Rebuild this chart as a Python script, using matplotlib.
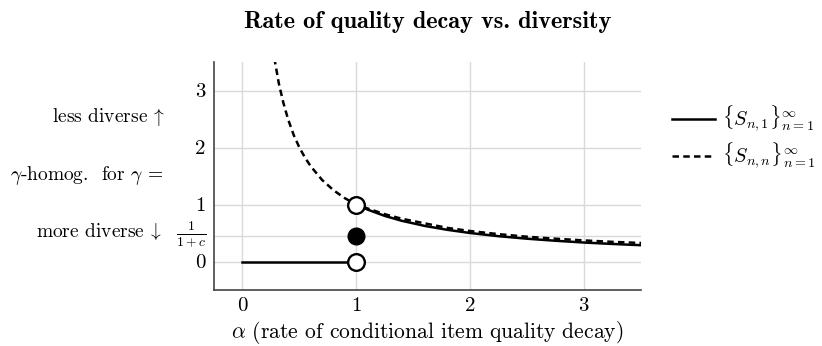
import numpy as np
import matplotlib
matplotlib.use("Agg")
import matplotlib.pyplot as plt
import matplotlib.transforms as mtransforms

plt.rcParams["font.family"] = "serif"
plt.rcParams["font.serif"] = ["cmr10"]
plt.rcParams["mathtext.fontset"] = "cm"
plt.rcParams["axes.formatter.use_mathtext"] = True

# values
c_level = 0.45  # 1/(1+c)

# S_{n,1}: zero up to alpha=1, then decays
s1_low_x = [0.0, 1.0]
s1_low_y = [0.0, 0.0]
s1_high_x = [1.0, 1.1, 1.25, 1.4, 1.6, 1.8, 2.0, 2.25, 2.5, 2.75, 3.0, 3.25, 3.5]
s1_high_y = [1.0, 0.91, 0.80, 0.714, 0.625, 0.556, 0.50, 0.444, 0.40, 0.364, 0.333, 0.308, 0.286]

# S_{n,n}
snn_x = [0.28, 0.32, 0.36, 0.4, 0.45, 0.5, 0.55, 0.6, 0.7, 0.8, 0.9, 1.0,
         1.1, 1.25, 1.4, 1.6, 1.8, 2.0, 2.25, 2.5, 2.75, 3.0, 3.25, 3.5]
snn_y = [3.57, 3.12, 2.78, 2.5, 2.22, 2.0, 1.82, 1.67, 1.43, 1.25, 1.11, 1.0,
         0.93, 0.83, 0.75, 0.67, 0.59, 0.535, 0.48, 0.435, 0.40, 0.37, 0.345, 0.325]

x_ticks = [0, 1, 2, 3]
y_ticks = [0, c_level, 1, 2, 3]
y_tick_labels = ["0", r"$\frac{1}{1+c}$", "1", "2", "3"]

fig = plt.figure(figsize=(8.22, 3.46), dpi=100)
ax = fig.add_axes([0.2603, 0.1618, 0.5195, 0.659])

ax.plot(s1_low_x, s1_low_y, color="black", lw=1.8, zorder=3)
ax.plot(s1_high_x, s1_high_y, color="black", lw=1.8, zorder=3,
        label=r"$\{S_{n,1}\}_{n=1}^{\infty}$")
ax.plot(snn_x, snn_y, color="black", lw=1.8, ls=(0, (2.6, 1.7)), zorder=3,
        label=r"$\{S_{n,n}\}_{n=1}^{\infty}$")

ax.plot([1], [1], "o", ms=12, mfc="white", mec="black", mew=1.7, zorder=5)
ax.plot([1], [0], "o", ms=12, mfc="white", mec="black", mew=1.7, zorder=5)
ax.plot([1], [c_level], "o", ms=12, mfc="black", mec="black", zorder=5)

ax.set_xlim(-0.25, 3.5)
ax.set_ylim(-0.5, 3.5)
ax.set_xticks(x_ticks)
ax.set_yticks(y_ticks)
ax.set_yticklabels(y_tick_labels)
ax.tick_params(length=0, labelsize=15)
ax.tick_params(axis="x", pad=5)
ax.tick_params(axis="y", pad=6)
# fraction label: a bit smaller and lifted so its bar sits on the tick
frac_lbl = ax.get_yticklabels()[1]
frac_lbl.set_fontsize(14)
frac_lbl.set_transform(frac_lbl.get_transform() +
                       mtransforms.ScaledTranslation(0, 5 / 72, fig.dpi_scale_trans))
ax.grid(True, color="#d9d9d9", lw=1)
ax.set_axisbelow(True)
for s in ["top", "right"]:
    ax.spines[s].set_visible(False)
for s in ["left", "bottom"]:
    ax.spines[s].set_color("#444444")
    ax.spines[s].set_linewidth(1.2)

ax.set_xlabel(r"$\alpha$ (rate of conditional item quality decay)", fontsize=15.5, labelpad=3)
fig.text(0.5207, 0.935, "Rate of quality decay vs. diversity", ha="center", va="center",
         fontsize=17.5, family="cmb10")

tr = ax.get_yaxis_transform()
ax.text(-0.115, 2.53, r"less diverse $\!\uparrow$", transform=tr, ha="right", va="center", fontsize=14)
ax.text(-0.119, 1.51, r"$\gamma$-homog.  for $\gamma$ =", transform=tr, ha="right", va="center", fontsize=14)
ax.text(-0.122, 0.53, r"more diverse $\!\downarrow$", transform=tr, ha="right", va="center", fontsize=14)

fig.legend(loc="upper left", bbox_to_anchor=(0.8175, 0.70), frameon=False, fontsize=14.5,
           handlelength=2.15, handletextpad=0.35, labelspacing=0.35, borderpad=0,
           borderaxespad=0)

fig.savefig("out.png", dpi=100)
